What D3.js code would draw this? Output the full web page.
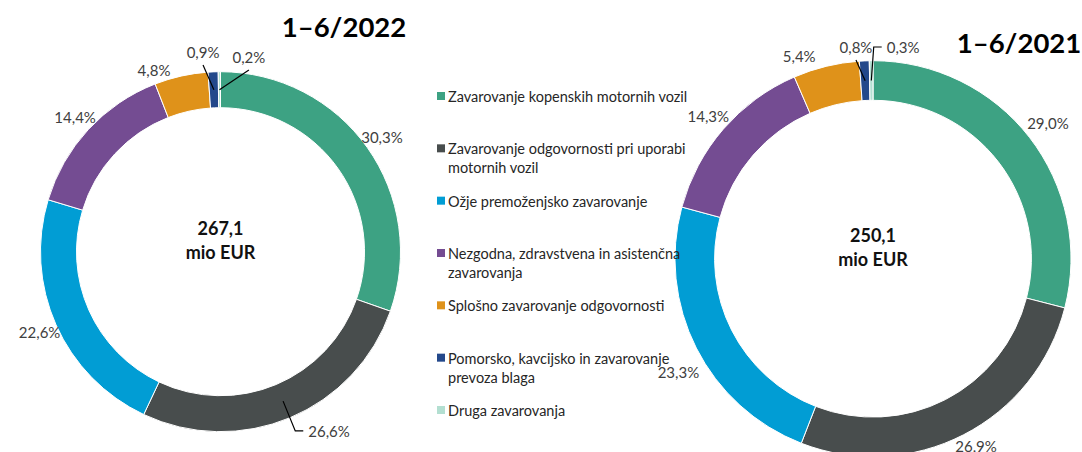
<!DOCTYPE html>
<html>
<head>
<meta charset="utf-8">
<script src="https://cdn.jsdelivr.net/npm/d3@7"></script>
<style>
  body { margin: 0; background: #fff; }
  svg text { font-family: Lato, "Open Sans", sans-serif; }
</style>
</head>
<body>
<div id="chart"></div>
<script>
// Slice order = legend order, clockwise from 12 o'clock
const categories = [
  "Zavarovanje kopenskih motornih vozil",
  "Zavarovanje odgovornosti pri uporabi motornih vozil",
  "Ožje premoženjsko zavarovanje",
  "Nezgodna, zdravstvena in asistenčna zavarovanja",
  "Splošno zavarovanje odgovornosti",
  "Pomorsko, kavcijsko in zavarovanje prevoza blaga",
  "Druga zavarovanja"
];
const colors = ["#3da283", "#484d4d", "#019dd4", "#744c92", "#df921a", "#23488b", "#b3dfd1"];

const values2022 = [30.3, 26.6, 22.6, 14.4, 4.8, 0.9, 0.2];
const values2021 = [29.0, 26.9, 23.3, 14.3, 5.4, 0.8, 0.3];
const titles = ["1–6/2022", "1–6/2021"];
const totals = ["267,1", "250,1"];
const unit = "mio EUR";

const width = 1082, height = 452;
const fmt = v => d3.format(".1f")(v).replace(".", ",") + "%";

// layout of each donut; label tweaks for the crowded small slices
const charts = [
  { title: titles[0], values: values2022, total: totals[0],
    cx: 220.5, cy: 251.7, r: 180, titleX: 344, titleY: 37,
    adjust: { 1: {angle: 148.8, k: 1.164, leader: "side"},
              4: {angle: -20.1, k: 1.075},
              5: {angle: -5.0, k: 1.114, leader: "below"},
              6: {angle: 8.3, k: 1.093, leader: "below"} } },
  { title: titles[1], values: values2021, total: totals[1],
    cx: 873, cy: 258.7, r: 198, titleX: 1019, titleY: 53,
    adjust: { 0: {k: 1.118},
              1: {angle: 151.2, k: 1.08},
              2: {angle: 239.8, k: 1.137},
              4: {angle: -20, k: 1.09},
              5: {angle: -4.6, k: 1.073, leader: "below"},
              6: {angle: 8.1, k: 1.08, leader: "side"} } }
];

const svg = d3.select("#chart").append("svg")
    .attr("width", width)
    .attr("height", height);

const pie = d3.pie().sort(null).value(d => d);
const rad = deg => deg * Math.PI / 180;
const polar = (a, r) => [Math.sin(a) * r, -Math.cos(a) * r];

charts.forEach(c => {
  const g = svg.append("g").attr("transform", `translate(${c.cx},${c.cy})`);
  const arc = d3.arc().innerRadius(c.r * 0.8).outerRadius(c.r);
  const arcs = pie(c.values);

  g.selectAll("path.slice")
    .data(arcs)
    .enter().append("path")
    .attr("class", "slice")
    .attr("d", arc)
    .attr("fill", (d, i) => colors[i])
    .attr("stroke", "#fff")
    .attr("stroke-width", 1);

  // percentage labels
  arcs.forEach((d, i) => {
    const adj = c.adjust[i] || {};
    const mid = (d.startAngle + d.endAngle) / 2;
    const a = adj.angle !== undefined ? rad(adj.angle) : mid;
    const k = adj.k || 1.1;
    const [lx, ly] = polar(a, c.r * k);
    const label = g.append("text")
      .attr("x", lx).attr("y", ly)
      .attr("text-anchor", "middle")
      .attr("dominant-baseline", "central")
      .attr("font-size", 15)
      .attr("fill", "#404040")
      .text(fmt(d.value));

    if (adj.leader) {
      const box = label.node().getBBox();
      const [sx, sy] = polar(mid, c.r * 0.9);
      let pts;
      if (adj.leader === "side") {
        pts = [[sx, sy], [box.x - 13, ly], [box.x - 5, ly]];
      } else {
        pts = [[sx, sy], [lx, box.y + box.height + 4]];
      }
      g.append("path")
        .attr("d", d3.line()(pts))
        .attr("fill", "none")
        .attr("stroke", "#000")
        .attr("stroke-width", 1.2);
    }
  });

  // total in the centre
  g.append("text")
    .attr("text-anchor", "middle")
    .attr("y", -17)
    .attr("font-size", 18).attr("font-weight", "bold")
    .attr("fill", "#111")
    .text(c.total);
  g.append("text")
    .attr("text-anchor", "middle")
    .attr("y", 7)
    .attr("font-size", 18).attr("font-weight", "bold")
    .attr("fill", "#111")
    .text(unit);

  svg.append("text")
    .attr("x", c.titleX).attr("y", c.titleY)
    .attr("text-anchor", "middle")
    .attr("font-size", 27.5).attr("font-weight", "bold")
    .attr("fill", "#000")
    .text(c.title);
});

// legend
const legendY = d3.scaleLinear().domain([0, categories.length - 1]).range([96, 410]);
const legend = svg.append("g").attr("transform", "translate(437,0)");
categories.forEach((name, i) => {
  const y = legendY(i);
  legend.append("rect")
    .attr("x", 0).attr("y", y - 4)
    .attr("width", 8).attr("height", 8)
    .attr("fill", colors[i]);
  const t = legend.append("text")
    .attr("x", 11).attr("y", y)
    .attr("dominant-baseline", "central")
    .attr("font-size", 14.5)
    .attr("fill", "#262626");
  // simple word wrap
  const words = name.split(" ");
  let line = [], lineNo = 0;
  let span = t.append("tspan").attr("x", 11).attr("y", y);
  words.forEach(w => {
    line.push(w);
    span.text(line.join(" "));
    if (span.node().getComputedTextLength() > 265 && line.length > 1) {
      line.pop();
      span.text(line.join(" "));
      line = [w];
      lineNo++;
      span = t.append("tspan").attr("x", 11).attr("y", y + lineNo * 19).text(w);
    }
  });
});
</script>
</body>
</html>
